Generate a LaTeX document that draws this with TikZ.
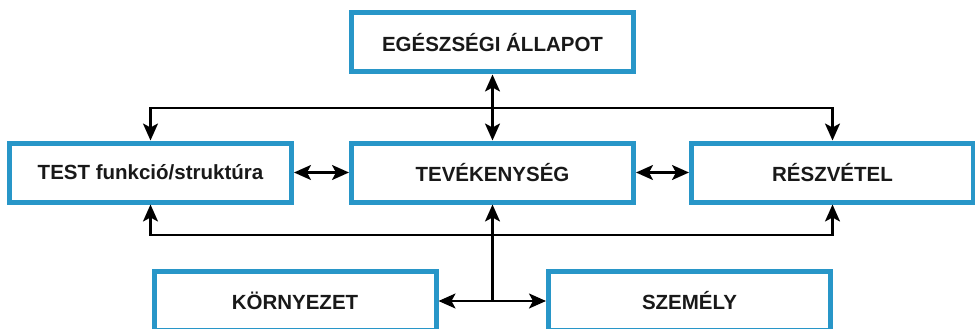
\documentclass[tikz,border=0pt]{standalone}
\usepackage{fontspec}
\setmainfont{Liberation Sans}
\usetikzlibrary{arrows.meta,positioning,calc}

\definecolor{keretkek}{RGB}{40,150,200}

\tikzset{
    doboz/.style={draw=keretkek, line width=5pt, fill=white,
                  minimum width=282pt, minimum height=59pt, inner sep=0pt,
                  font=\bfseries\fontsize{20.5}{24}\selectfont, text=black!90},
    hegy/.tip={Stealth[length=17pt,width=15pt,inset=4pt]},
    nyil/.style={line width=2.2pt, -hegy},
    ketnyil/.style={line width=2.2pt, hegy-hegy}
}

\begin{document}
\begin{tikzpicture}[x=1pt,y=-1pt]
    \clip (0,0) rectangle (975,329);      % page frame
    \fill[white] (0,0) rectangle (975,329);

    \pgfmathsetmacro {\ys}{108}   %upper bar height
    \pgfmathsetmacro {\ya}{235}   %lower bar height

    %Boxes
    \node[doboz] (egeszseg)    at (492.5,42.5)  {EGÉSZSÉGI ÁLLAPOT};
    \node[doboz] (test)        at (150.5,172.5) {TEST funkció/struktúra};
    \node[doboz] (tevekenyseg) at (492.5,172.5) {TEVÉKENYSÉG};
    \node[doboz] (reszvetel)   at (832.5,172.5) {RÉSZVÉTEL};
    \node[doboz] (kornyezet)   at (295,301)     {KÖRNYEZET};
    \node[doboz] (szemely)     at (689.5,301)   {SZEMÉLY};

    %Upper bar
    \coordinate (felso) at (492.5,\ys);
    \draw[ketnyil] (egeszseg) -- (tevekenyseg);
    \draw[nyil] (felso) -| (test.north);
    \draw[nyil] (felso) -| (reszvetel.north);

    %Middle row
    \draw[ketnyil] (test) -- (tevekenyseg);
    \draw[ketnyil] (tevekenyseg) -- (reszvetel);

    %Lower bar
    \coordinate (also) at (492.5,\ya);
    \draw[nyil] (also) -| (test.south);
    \draw[nyil] (also) -| (reszvetel.south);

    %Environment and person factors
    \coordinate (kozep) at (tevekenyseg.south |- kornyezet.east);
    \draw[nyil] (kozep) -- (tevekenyseg.south);
    \draw[ketnyil] (kornyezet) -- (szemely);
\end{tikzpicture}
\end{document}
